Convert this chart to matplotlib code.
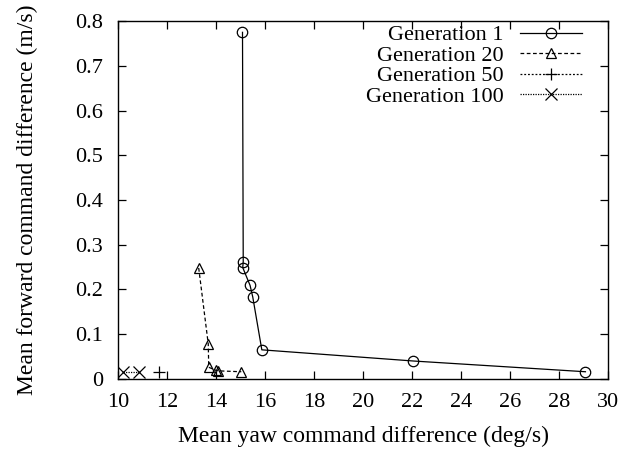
import matplotlib
matplotlib.use("Agg")
import matplotlib.pyplot as plt

# Generation 1
gen1_yaw = [15.07, 15.10, 15.08, 15.38, 15.49, 15.86, 22.06, 29.09]
gen1_fwd = [0.775, 0.262, 0.249, 0.209, 0.183, 0.065, 0.040, 0.016]

# Generation 20
gen20_yaw = [13.28, 13.67, 13.69, 13.99, 14.07, 15.02]
gen20_fwd = [0.248, 0.078, 0.026, 0.019, 0.018, 0.016]

# Generation 50
gen50_yaw = [11.65]
gen50_fwd = [0.015]

# Generation 100
gen100_yaw = [10.19, 10.84]
gen100_fwd = [0.015, 0.015]

x_ticks = list(range(10, 31, 2))
y_ticks = [0, 0.1, 0.2, 0.3, 0.4, 0.5, 0.6, 0.7, 0.8]
y_tick_labels = ["0", "0.1", "0.2", "0.3", "0.4", "0.5", "0.6", "0.7", "0.8"]

plt.rcParams["font.family"] = ["Liberation Serif", "DejaVu Serif"]
plt.rcParams["font.size"] = 16

fig = plt.figure(figsize=(6.37, 4.5), dpi=100)
ax = fig.add_axes([0.186, 0.158, 0.768, 0.795])

style = dict(color="black", linewidth=0.9, markerfacecolor="none",
             markeredgecolor="black", markeredgewidth=0.9)

ax.plot(gen1_yaw, gen1_fwd, linestyle="-", marker="o", markersize=7.5,
        label="Generation 1", **style)
ax.plot(gen20_yaw, gen20_fwd, linestyle=(0, (3, 2)), marker="^", markersize=7.5,
        label="Generation 20", **style)
ax.plot(gen50_yaw, gen50_fwd, linestyle=(0, (1.5, 1.5)), marker="+", markersize=9,
        label="Generation 50", **style)
ax.plot(gen100_yaw, gen100_fwd, linestyle=(0, (1, 1)), marker="x", markersize=8,
        label="Generation 100", **style)

ax.set_xlim(10, 30)
ax.set_ylim(0, 0.8)
ax.set_xticks(x_ticks)
ax.set_yticks(y_ticks)
ax.set_yticklabels(y_tick_labels)
ax.tick_params(direction="in", top=True, right=True, length=6, width=0.9)
ax.tick_params(axis="y", pad=11)
ax.tick_params(axis="x", pad=10)
for spine in ax.spines.values():
    spine.set_linewidth(1.0)

ax.set_xlabel("Mean yaw command difference (deg/s)", fontsize=17, labelpad=10)
ax.set_ylabel("Mean forward command difference (m/s)", fontsize=17, labelpad=27)

ax.legend(loc="upper right", bbox_to_anchor=(0.914, 0.945),
          bbox_transform=fig.transFigure, frameon=False, markerfirst=False,
          handlelength=2.8, labelspacing=0.0, handletextpad=0.75,
          borderpad=0, borderaxespad=0, fontsize=16)

fig.savefig("out.png", dpi=100)
